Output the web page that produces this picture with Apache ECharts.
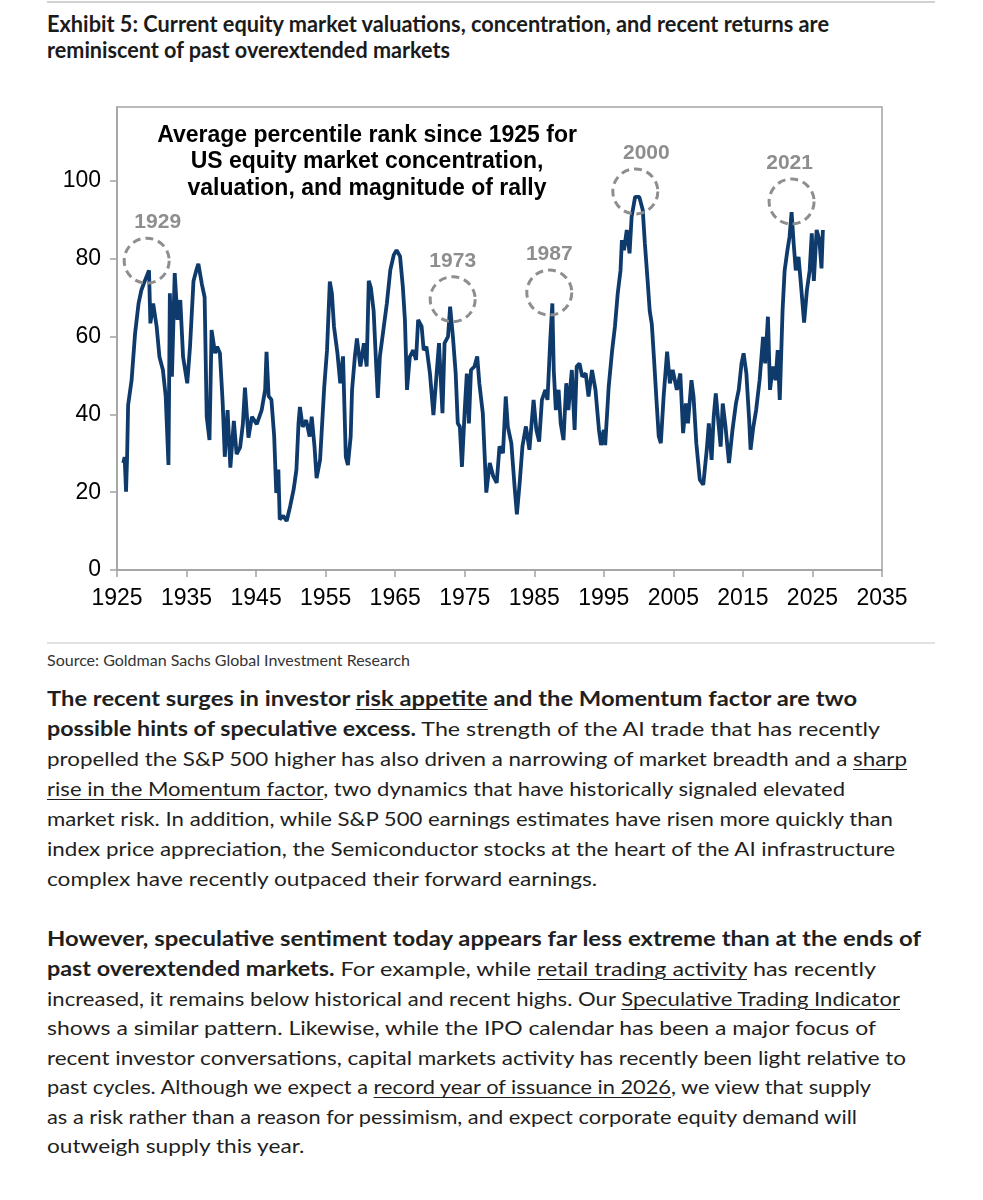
<!DOCTYPE html>
<html>
<head>
<meta charset="utf-8">
<script src="https://cdn.jsdelivr.net/npm/echarts@6/dist/echarts.min.js"></script>
<style>
  body { margin: 0; background: #fff; width: 983px; height: 1200px; position: relative; overflow: hidden; }
  .rule { position: absolute; left: 47px; width: 888px; height: 2px; background: #d2d2d2; }
  #chart { position: absolute; left: 0; top: 0; width: 983px; height: 640px; }
  .line { position: absolute; left: 47px; white-space: nowrap; transform-origin: 0 50%; color: #1f1f1f; }
  .head { font-family: Lato, sans-serif; font-weight: 700; font-size: 23px; color: #1b1b1b; }
  .src { font-family: Lato, sans-serif; font-size: 15px; color: #333; }
  .txt { font-family: Lato, sans-serif; font-size: 20px; }
  .txt b { font-weight: 700; }
  .txt u { text-decoration-thickness: 1px; text-underline-offset: 3px; }
</style>
</head>
<body>
<div class="rule" style="top:1px"></div>
<div class="line head" style="top:9px" data-w="782">Exhibit 5: Current equity market valuations, concentration, and recent returns are</div>
<div class="line head" style="top:35px" data-w="403">reminiscent of past overextended markets</div>

<div id="chart"></div>

<div class="rule" style="top:642px; background:#e2e2e2"></div>
<div class="line src" style="top:651px" data-w="363">Source: Goldman Sachs Global Investment Research</div>

<div class="line txt" style="top:686px" data-w="810"><b>The recent surges in investor <u>risk appetite</u> and the Momentum factor are two</b></div>
<div class="line txt" style="top:716px" data-w="833"><b>possible hints of speculative excess.</b> The strength of the AI trade that has recently</div>
<div class="line txt" style="top:746px" data-w="860">propelled the S&amp;P 500 higher has also driven a narrowing of market breadth and a <u>sharp</u></div>
<div class="line txt" style="top:776px" data-w="798"><u>rise in the Momentum factor</u>, two dynamics that have historically signaled elevated</div>
<div class="line txt" style="top:806px" data-w="846">market risk. In addition, while S&amp;P 500 earnings estimates have risen more quickly than</div>
<div class="line txt" style="top:836px" data-w="848">index price appreciation, the Semiconductor stocks at the heart of the AI infrastructure</div>
<div class="line txt" style="top:866px">complex have recently outpaced their forward earnings.</div>

<div class="line txt" style="top:926px" data-w="874"><b>However, speculative sentiment today appears far less extreme than at the ends of</b></div>
<div class="line txt" style="top:956px" data-w="829"><b>past overextended markets.</b> For example, while <u>retail trading activity</u> has recently</div>
<div class="line txt" style="top:986px" data-w="853">increased, it remains below historical and recent highs. Our <u>Speculative Trading Indicator</u></div>
<div class="line txt" style="top:1015px" data-w="829">shows a similar pattern. Likewise, while the IPO calendar has been a major focus of</div>
<div class="line txt" style="top:1045px" data-w="859">recent investor conversations, capital markets activity has recently been light relative to</div>
<div class="line txt" style="top:1074px" data-w="824">past cycles. Although we expect a <u>record year of issuance in 2026</u>, we view that supply</div>
<div class="line txt" style="top:1104px" data-w="810">as a risk rather than a reason for pessimism, and expect corporate equity demand will</div>
<div class="line txt" style="top:1133px">outweigh supply this year.</div>

<script>
// average percentile rank (year, value)
var years = [
  1925.9, 1926.1, 1926.3, 1926.45, 1926.6, 1927.1, 1927.6, 1928.1, 1928.5, 1929.0,
  1929.6, 1929.8, 1930.2, 1930.7, 1931.1, 1931.6, 1932.0, 1932.4, 1932.6, 1932.9,
  1933.3, 1933.7, 1934.1, 1934.5, 1935.1, 1935.5, 1936.0, 1936.4, 1936.7, 1937.2,
  1937.6, 1937.9, 1938.3, 1938.6, 1939.1, 1939.4, 1939.8, 1940.2, 1940.5, 1940.9,
  1941.3, 1941.8, 1942.2, 1942.7, 1943.1, 1943.4, 1943.9, 1944.4, 1945.1, 1945.8,
  1946.3, 1946.5, 1946.8, 1947.2, 1947.6, 1947.9, 1948.2, 1948.4, 1948.9, 1949.4,
  1949.9, 1950.4, 1950.8, 1951.1, 1951.3, 1951.7, 1952.2, 1952.7, 1953.0, 1953.4,
  1953.7, 1954.2, 1954.8, 1955.2, 1955.6, 1955.9, 1956.2, 1956.7, 1957.1, 1957.5,
  1957.9, 1958.2, 1958.6, 1958.8, 1959.2, 1959.5, 1960.0, 1960.5, 1960.9, 1961.2,
  1961.5, 1961.9, 1962.3, 1962.5, 1962.8, 1963.3, 1963.8, 1964.3, 1964.8, 1965.2,
  1965.7, 1966.1, 1966.4, 1966.7, 1967.1, 1967.6, 1968.0, 1968.3, 1968.8, 1969.1,
  1969.5, 1970.0, 1970.5, 1971.0, 1971.3, 1971.8, 1972.1, 1972.6, 1972.9, 1973.3,
  1973.7, 1974.0, 1974.3, 1974.6, 1975.0, 1975.3, 1975.6, 1975.9, 1976.4, 1976.8,
  1977.1, 1977.6, 1978.1, 1978.6, 1979.1, 1979.6, 1980.0, 1980.5, 1980.9, 1981.2,
  1981.7, 1982.2, 1982.5, 1982.9, 1983.3, 1983.8, 1984.3, 1984.9, 1985.3, 1985.7,
  1986.1, 1986.6, 1986.9, 1987.3, 1987.6, 1987.8, 1988.1, 1988.5, 1988.8, 1989.2,
  1989.6, 1989.9, 1990.4, 1990.8, 1991.1, 1991.5, 1991.9, 1992.4, 1992.8, 1993.3,
  1993.8, 1994.3, 1994.6, 1995.0, 1995.2, 1995.7, 1996.2, 1996.6, 1997.0, 1997.4,
  1997.6, 1997.9, 1998.3, 1998.7, 1999.0, 1999.5, 2000.1, 2000.6, 2000.9, 2001.3,
  2001.6, 2001.9, 2002.2, 2002.6, 2002.9, 2003.2, 2003.6, 2004.1, 2004.5, 2004.9,
  2005.5, 2006.0, 2006.4, 2006.8, 2007.1, 2007.6, 2007.9, 2008.3, 2008.8, 2009.3,
  2009.8, 2010.1, 2010.5, 2010.8, 2011.1, 2011.4, 2011.8, 2012.1, 2012.5, 2013.0,
  2013.5, 2014.0, 2014.4, 2014.8, 2015.1, 2015.5, 2015.9, 2016.1, 2016.5, 2016.9,
  2017.4, 2017.9, 2018.2, 2018.6, 2018.9, 2019.3, 2019.7, 2020.0, 2020.3, 2020.7,
  2021.0, 2021.4, 2021.7, 2022.0, 2022.3, 2022.6, 2023.0, 2023.3, 2023.8, 2024.2,
  2024.6, 2024.9, 2025.2, 2025.6, 2026.0, 2026.3, 2026.5
];
var values = [
  27.5, 29, 20.1, 29, 42.4, 48.8, 60.8, 68.5, 71.9, 74.3,
  77, 63.4, 68.5, 62.6, 54.8, 51.4, 44.7, 27, 71.1, 49.7,
  76.3, 64.3, 69.4, 54.8, 48, 57.4, 74.3, 77, 78.7, 73.5,
  70.1, 39.4, 33.4, 61.7, 55.7, 57.4, 55.7, 42.8, 29.1, 41.1,
  26.3, 38.3, 29.8, 31.5, 37.5, 46.9, 34, 39.4, 37.5, 41.1,
  46.3, 56.1, 44.7, 43.8, 34.4, 19.8, 25.8, 13, 13.9, 12.6,
  16.4, 20.7, 25.8, 37.7, 41.9, 36.8, 38.5, 34.3, 39.4, 31.7,
  23.6, 28.3, 47.1, 56.5, 74.1, 71.1, 62.6, 55.7, 48, 54.9,
  29.1, 27, 34.3, 46.3, 54.8, 59.5, 52.3, 58.3, 52.3, 74.3,
  72.6, 66.6, 51.4, 44.2, 54.9, 61.7, 68.5, 77.1, 81, 82.2,
  80.6, 72.8, 64.3, 46.3, 54.8, 56.5, 54, 64.3, 62.6, 56.5,
  57.4, 50.5, 39.8, 51.4, 58.3, 40.3, 58.3, 60, 67.7, 60,
  50.5, 37.7, 36.8, 26.5, 41.1, 50.5, 37.7, 51.4, 52.3, 54.9,
  48, 40.3, 19.9, 27.5, 24.1, 22.4, 31.8, 30, 44.6, 36.8,
  32.6, 20.7, 14.3, 22.4, 31.8, 36.9, 30.9, 43.7, 36, 33,
  43.7, 46.3, 43.7, 59.2, 68.5, 51.4, 41.1, 46.3, 37.7, 33.4,
  48, 41.1, 51.4, 36, 52.3, 53.1, 49.7, 50.5, 44.6, 51.4,
  46.3, 36, 32.1, 36, 32.1, 47.1, 56.5, 62.6, 71.1, 77,
  84.8, 82.2, 87.4, 81.4, 90.8, 95.9, 95.9, 92.5, 84, 74.3,
  66.6, 63.2, 54.8, 42.8, 34.3, 32.6, 44.6, 56.1, 48, 51.4,
  46.3, 50.5, 35.2, 42.8, 37.7, 48.8, 44.6, 32.6, 23.2, 21.9,
  30.9, 37.7, 28.3, 39.4, 45.4, 39.4, 31.7, 42.8, 36.8, 27.5,
  36, 42.8, 46.3, 53.1, 55.7, 50.5, 38.5, 30.9, 36.8, 41.1,
  48.8, 59.9, 53.1, 65.1, 46.3, 52.3, 48.8, 56.5, 43.7, 66.6,
  77, 82.2, 85.6, 92, 83.9, 77, 80.5, 74.3, 63.6, 71.9,
  77, 86.5, 74.3, 87.4, 84.8, 77.5, 87.4
];

// circled episodes
var peakYears = [1929.27, 1973.27, 1987.16, 1999.53, 2022.0];
var peakValues = [79.5, 69.6, 71.3, 97.3, 94.7];
var peakLabels = ['1929', '1973', '1987', '2000', '2021'];

var xTicks = [1925, 1935, 1945, 1955, 1965, 1975, 1985, 1995, 2005, 2015, 2025, 2035];
var yTicks = [0, 20, 40, 60, 80, 100];

var chart = echarts.init(document.getElementById('chart'), null, { renderer: 'canvas' });

var labelShift = { '1929': 11, '2000': 11, '2021': -2 };
var axisGray = '#a3a3a3';

var option = {
  animation: false,
  grid: {
    left: 117, top: 107, width: 765, height: 463,
    show: true, borderColor: axisGray, borderWidth: 1.5
  },
  xAxis: {
    type: 'value',
    min: 1925, max: 2035,
    axisLine: { show: true, lineStyle: { color: axisGray, width: 1.5 } },
    axisTick: { show: true, length: 7, lineStyle: { color: axisGray, width: 1.5 }, customValues: xTicks },
    axisLabel: {
      customValues: xTicks, margin: 17,
      color: '#000', fontSize: 23, fontFamily: 'Liberation Sans',
      formatter: function (v) { return String(v); }
    },
    splitLine: { show: false }
  },
  yAxis: {
    type: 'value',
    min: 0, max: 119,
    axisLine: { show: true, lineStyle: { color: axisGray, width: 1.5 } },
    axisTick: { show: true, length: 7, lineStyle: { color: axisGray, width: 1.5 }, customValues: yTicks },
    axisLabel: {
      customValues: yTicks, margin: 16,
      color: '#000', fontSize: 23, fontFamily: 'Liberation Sans'
    },
    splitLine: { show: false }
  },
  graphic: [{
    type: 'text',
    x: 367, y: 122,
    style: {
      text: 'Average percentile rank since 1925 for\nUS equity market concentration,\nvaluation, and magnitude of rally',
      textAlign: 'center', textVerticalAlign: 'top',
      font: 'bold 23px "Liberation Sans"', lineHeight: 26.5, fill: '#000'
    }
  }],
  series: [{
    type: 'line',
    data: years.map(function (y, i) { return [y, values[i]]; }),
    showSymbol: false,
    lineStyle: { color: '#0e3a6c', width: 3.8 },
    markPoint: {
      silent: true,
      symbol: 'circle',
      symbolSize: 45,
      itemStyle: { color: 'rgba(0,0,0,0)', borderColor: '#8e8e8e', borderWidth: 3, borderType: [8, 5] },
      label: {
        show: true, position: 'top', distance: 4,
        color: '#8e8e8e', fontWeight: 'bold', fontSize: 21, fontFamily: 'Liberation Sans',
        formatter: function (p) { return p.name; }
      },
      data: peakYears.map(function (y, i) {
        return {
          name: peakLabels[i],
          coord: [y, peakValues[i]],
          label: { offset: [labelShift[peakLabels[i]] || 0, 0] }
        };
      })
    }
  }]
};
chart.setOption(option);

// squeeze each text line to the width it has in the original layout;
// short closing lines take the average squeeze of the body lines
var scales = [];
document.querySelectorAll('.line[data-w]').forEach(function (el) {
  var s = +el.getAttribute('data-w') / el.getBoundingClientRect().width;
  el.style.transform = 'scaleX(' + s.toFixed(4) + ')';
  if (el.classList.contains('txt')) scales.push(s);
});
var avg = scales.reduce(function (a, b) { return a + b; }, 0) / scales.length;
document.querySelectorAll('.line.txt:not([data-w])').forEach(function (el) {
  el.style.transform = 'scaleX(' + avg.toFixed(4) + ')';
});
</script>
</body>
</html>
